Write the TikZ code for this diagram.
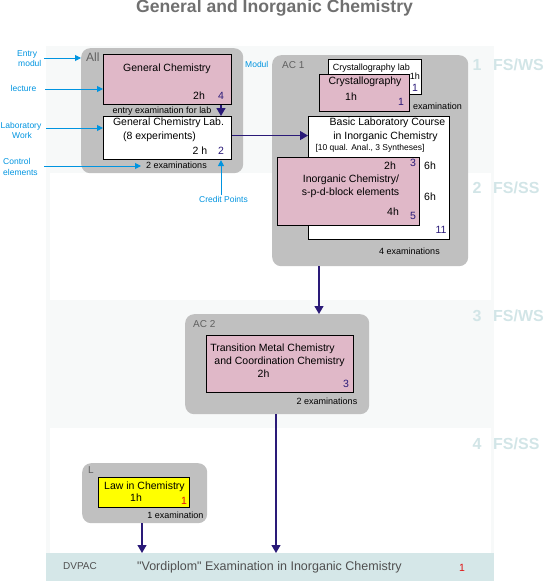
\documentclass[tikz,border=0pt]{standalone}
\usepackage{fontspec}
\setmainfont{Liberation Sans}
\newfontfamily\qfont{Liberation Sans}[Ligatures=TeXOff]
\usetikzlibrary{arrows.meta}
\definecolor{bandgrey}{HTML}{F7F9F9}
\definecolor{dvpteal}{HTML}{D5E7E8}
\definecolor{semcol}{HTML}{D2E5E7}
\definecolor{boxgrey}{HTML}{C0C0C0}
\definecolor{lectpink}{HTML}{E0B8C8}
\definecolor{navyc}{HTML}{2A1A78}
\definecolor{noteblue}{HTML}{0094E0}
\definecolor{labgrey}{HTML}{606060}
\definecolor{dvptext}{HTML}{505050}
\definecolor{titlegrey}{HTML}{707070}
\definecolor{redc}{HTML}{E01010}
\definecolor{yellowc}{HTML}{FFFF00}
\tikzset{
  tx/.style={font=\fontsize{#1}{#1}\selectfont, inner sep=0pt, text height=0.72*#1pt, text depth=0.2*#1pt},
  tm/.style={tx=10.5},
  ts/.style={tx=9},
  nt/.style={tx=8.5, text=noteblue},
  nv/.style={tx=10.5, text=navyc},
  rd/.style={tx=10.5, text=redc},
  gl/.style={tx=10, text=labgrey},
  sem/.style={font=\fontsize{16}{16}\selectfont\bfseries, text=semcol, inner sep=0pt, text height=11.5pt, text depth=0pt},
  grp/.style={fill=boxgrey, rounded corners=9pt, inner sep=0pt, anchor=north west},
  lect/.style={fill=lectpink, draw=black, line width=1.1pt, inner sep=0pt, anchor=north west},
  labb/.style={fill=white, draw=black, line width=1.1pt, inner sep=0pt, anchor=north west},
  lawb/.style={fill=yellowc, draw=black, line width=1.1pt, inner sep=0pt, anchor=north west},
  conn/.style={draw=navyc, line width=1.2pt, -{Triangle[width=9pt,length=8pt]}},
  notearr/.style={draw=noteblue, line width=1pt, -{Triangle[width=6pt,length=6pt]}},
}
\begin{document}
\begin{tikzpicture}[x=1pt,y=-1pt]
\useasboundingbox (0,0) rectangle (550,581);
% background bands
\fill[bandgrey] (46,45.5) rectangle (494,553);
\fill[white] (50,173) rectangle (491,300);
\fill[white] (50,428) rectangle (491,553);
\node[fill=dvpteal, inner sep=0pt, minimum width=448pt, minimum height=28pt, anchor=north west] (dvp) at (46,553) {};

% title
\node[font=\fontsize{17.6}{17.6}\selectfont\bfseries, text=titlegrey, inner sep=0pt, text height=12.6pt, text depth=3.5pt] (title) at (274.5,8) {General and Inorganic Chemistry};

% semester labels
\node[sem] (s1n) at (477,64.5) {1};
\node[sem, anchor=west] (s1t) at (493,64.5) {FS/WS};
\node[sem] (s2n) at (477,188) {2};
\node[sem, anchor=west] (s2t) at (493,188) {FS/SS};
\node[sem] (s3n) at (477,316) {3};
\node[sem, anchor=west] (s3t) at (493,316) {FS/WS};
\node[sem] (s4n) at (477,444) {4};
\node[sem, anchor=west] (s4t) at (493,444) {FS/SS};

% annotation label behind AC1
\node[nt, anchor=west] (mod) at (245,65) {Modul};

% group boxes
\node[grp, minimum width=162pt, minimum height=125pt] (all) at (81,48) {};
\node[grp, minimum width=196pt, minimum height=211pt] (ac1) at (272,55) {};
\node[grp, minimum width=184pt, minimum height=100pt] (ac2) at (185,314) {};
\node[grp, minimum width=125pt, minimum height=60pt] (law) at (82,463) {};

\node[tx=12, text=labgrey, anchor=west] (allt) at (86,58) {All};
\node[gl, anchor=west] (ac1t) at (282,66) {AC 1};
\node[gl, anchor=west] (ac2t) at (193,325) {AC 2};
\node[gl, anchor=west] (lt) at (88,471) {L};

% module All
\node[lect, minimum width=128pt, minimum height=50pt] (gc) at (103,54) {};
\node[tm] (gct) at (167,69) {General Chemistry};
\node[tm] (gch) at (199,97) {2h};
\node[nv] (n4) at (221,97) {4};
\node[ts] (entx) at (162,111) {entry examination for lab};
\node[labb, minimum width=128pt, minimum height=43pt] (gcl) at (103,116) {};
\node[tm] (gclt1) at (168.5,123) {General Chemistry Lab.};
\node[tm] (gclt2) at (159.5,137) {(8 experiments)};
\node[tm] (gclh) at (200,152) {2 h};
\node[nv] (n2) at (221,152) {2};
\node[ts] (ex1) at (176.5,166) {2 examinations};

% module AC 1
\node[labb, minimum width=93pt, minimum height=35pt] (crl) at (328,59) {};
\node[ts] (crlt) at (371.5,68) {Crystallography lab};
\node[ts, anchor=east] (crlh) at (420,77) {1h};
\node[nv] (ncrl) at (415,89) {1};
\node[lect, minimum width=90pt, minimum height=37pt] (cry) at (319,74) {};
\node[tm] (cryt) at (365,82) {Crystallography};
\node[tm] (cryh) at (351,98) {1h};
\node[nv] (ncry) at (401,103) {1};
\node[ts] (ex2) at (437.5,107) {examination};
\node[labb, minimum width=141pt, minimum height=123pt] (blc) at (308,116) {};
\node[tm] (blct1) at (387.5,123) {Basic Laboratory Course};
\node[tm] (blct2) at (385.5,137) {in Inorganic Chemistry};
\node[tx=8.5] (blct3) at (370,148) {[10 qual. Anal., 3 Syntheses]};
\node[tm] (blch1) at (430,167) {6h};
\node[tm] (blch2) at (430,198) {6h};
\node[nv] (n11) at (441,231) {11};
\node[lect, minimum width=142pt, minimum height=68pt] (inorg) at (277,157) {};
\node[tm] (inh1) at (390,167) {2h};
\node[nv] (n3a) at (413,164) {3};
\node[tm] (int1) at (351,180) {Inorganic Chemistry/};
\node[tm] (int2) at (350.5,193) {s-p-d-block elements};
\node[tm] (inh2) at (393,213) {4h};
\node[nv] (n5) at (413,217) {5};
\node[ts] (ex3) at (409.5,252) {4 examinations};

% module AC 2
\node[lect, minimum width=147pt, minimum height=57pt] (tmc) at (206,335) {};
\node[tm] (tmct1) at (272.5,349) {Transition Metal Chemistry};
\node[tm] (tmct2) at (279.5,362) {and Coordination Chemistry};
\node[tm] (tmch) at (263.5,375) {2h};
\node[nv] (n3b) at (346,385) {3};
\node[ts] (ex4) at (327,402) {2 examinations};

% module L
\node[lawb, minimum width=91pt, minimum height=30pt] (lawc) at (98,477) {};
\node[tm] (lawt) at (144.5,487) {Law in Chemistry};
\node[tm] (lawh) at (136,499) {1h};
\node[rd] (nl) at (184,502) {1};
\node[ts] (ex5) at (175.5,516) {1 examination};

% DVP band texts
\node[tx=10, text=dvptext] (dvpt) at (80,567) {DVPAC};
\node[tx=12.5, text=dvptext, anchor=west] (dvpx) at (137,567) {\qfont "Vordiplom" Examination in Inorganic Chemistry};
\node[rd] (ndvp) at (462,569) {1};

% connectors
\coordinate (k1) at (319,0);
\coordinate (k2) at (276,0);
\coordinate (k3) at (142,0);
\draw[conn] (gc.south -| n4) -- (gcl.north -| n4);
\draw[conn] ([yshift=2.5pt]gcl.east) -- ([yshift=2.5pt]gcl.east -| blc.west);
\draw[conn] (ac1.south -| k1) -- (ac2.north -| k1);
\draw[conn] (ac2.south -| k2) -- (dvp.north -| k2);
\draw[conn] (law.south -| k3) -- (dvp.north -| k3);

% annotations
\node[nt, anchor=west] (e1) at (17,54) {Entry};
\node[nt, anchor=west] (e2) at (18,64) {modul};
\node[nt] (lec) at (23.5,89) {lecture};
\node[nt] (lw1) at (21,126) {Laboratory};
\node[nt] (lw2) at (22,136) {Work};
\node[nt, anchor=west] (ce1) at (3,162) {Control};
\node[nt, anchor=west] (ce2) at (3,173) {elements};
\node[nt] (cpt) at (223.5,200) {Credit Points};
\coordinate (a1s) at (44,58);
\coordinate (a2s) at (45,89);
\coordinate (a3s) at (46,128);
\coordinate (a4s) at (44,166);
\coordinate (a4e) at (141,166);
\draw[notearr] (a1s) -- (all.west |- a1s);
\draw[notearr] (a2s) -- (gc.west |- a2s);
\draw[notearr] (a3s) -- (gcl.west |- a3s);
\draw[notearr] (a4s) -- (a4e);
\draw[notearr] ([yshift=1pt]cpt.north -| n2) -- (gcl.south -| n2);
\end{tikzpicture}
\end{document}
